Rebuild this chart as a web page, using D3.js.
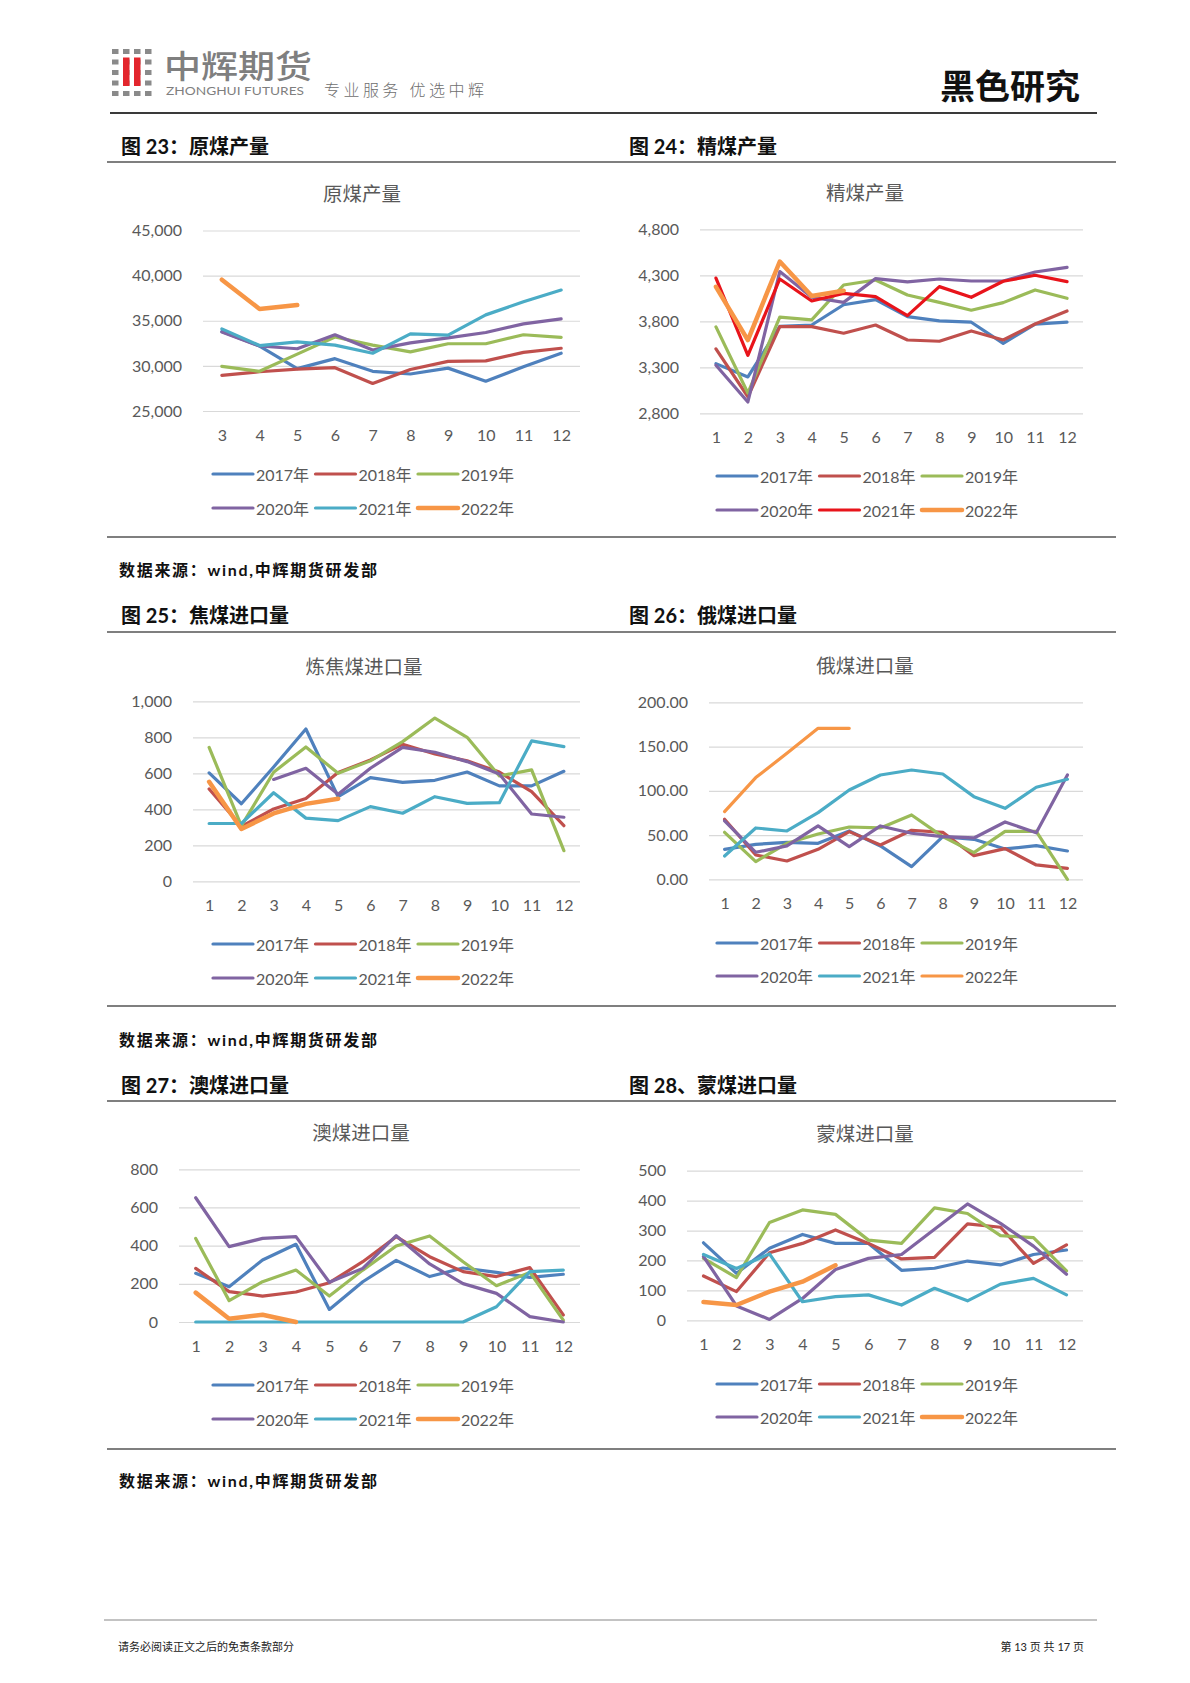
<!DOCTYPE html>
<html><head><meta charset="utf-8">
<script src="https://cdn.jsdelivr.net/npm/d3@7/dist/d3.min.js"></script>
<style>
html,body{margin:0;padding:0;background:#fff;}
svg{display:block;}
text{font-family:Lato,"Noto Sans CJK SC",sans-serif;}
</style></head>
<body>
<svg id="page" width="1190" height="1683"></svg>
<script>
// ---------------- DATA ----------------
const seriesNames = ["2017年","2018年","2019年","2020年","2021年","2022年"];
const monthsFrom3 = [3,4,5,6,7,8,9,10,11,12];
const months = [1,2,3,4,5,6,7,8,9,10,11,12];

const rawCoalTicks = [25000,30000,35000,40000,45000];
const rawCoal = [
  [33800,32200,29700,30800,29400,29100,29750,28300,29900,31400],
  [28950,29350,29650,29800,28050,29600,30500,30550,31500,31950],
  [29950,29400,31300,33200,32300,31550,32450,32450,33450,33150],
  [33750,32200,31900,33450,31750,32550,33100,33700,34650,35200],
  [34100,32250,32650,32300,31400,33550,33400,35650,37100,38400],
  [39550,36300,36750,null,null,null,null,null,null,null]
];

const cleanCoalTicks = [2800,3300,3800,4300,4800];
const cleanCoal = [
  [3340,3195,3745,3760,3980,4035,3850,3805,3790,3560,3770,3790],
  [3500,2980,3742,3742,3670,3760,3597,3583,3695,3597,3771,3912],
  [3740,3020,3845,3815,4195,4249,4086,4006,3920,4003,4141,4050],
  [3322,2923,4340,4061,4006,4264,4228,4260,4238,4238,4336,4387],
  [4270,3430,4260,4021,4104,4068,3862,4177,4061,4235,4300,4231],
  [4175,3595,4450,4075,4133,null,null,null,null,null,null,null]
];

const cokingImportTicks = [0,200,400,600,800,1000];
const cokingImport = [
  [602,431,635,846,470,576,550,561,607,530,530,611],
  [513,305,402,460,604,674,761,707,669,607,498,309],
  [744,308,606,746,600,669,776,907,800,585,619,170],
  [null,null,566,628,483,628,744,717,665,596,374,356],
  [321,321,492,351,337,415,378,470,433,437,780,748],
  [553,291,377,430,459,null,null,null,null,null,null,null]
];

const russiaTicks = [0,50,100,150,200];
const russiaImport = [
  [33.9,39.5,41.8,40.7,54.6,37.7,14.3,48.2,45.2,34.3,38.0,32.0],
  [67.8,27.5,20.7,33.9,53.9,38.8,55.4,53.1,26.7,34.7,16.2,12.4],
  [53.1,20.0,40.7,51.2,59.1,58.0,72.7,48.2,30.1,54.2,54.2,0],
  [65.9,30.5,37.7,60.3,36.9,60.3,52.0,48.2,46.7,64.8,52.7,117.9],
  [26.4,58.0,54.6,75.3,100.9,117.9,123.5,119.0,93.4,80.2,104.0,113.0],
  [76.5,114.9,142.4,170.6,170.6,null,null,null,null,null,null,null]
];

const australiaTicks = [0,200,400,600,800];
const australiaImport = [
  [255,185,325,407,66,211,323,238,283,260,234,250],
  [281,159,136,157,206,316,447,342,264,238,285,37],
  [438,112,211,272,136,272,398,451,316,190,260,10],
  [651,395,438,447,208,281,452,304,201,150,28,0],
  [0,0,0,0,0,0,0,0,0,80,264,272],
  [154,17,38,0,null,null,null,null,null,null,null,null]
];

const mongoliaTicks = [0,100,200,300,400,500];
const mongoliaImport = [
  [259,157,241,287,257,257,167,174,198,185,220,235],
  [148,96,226,257,302,257,205,210,322,311,190,252],
  [207,143,327,369,354,268,257,376,357,283,276,165],
  [213,48,3,73,170,207,220,304,389,324,248,154],
  [220,173,222,62,79,85,51,107,65,121,140,85],
  [61,51,96,129,184,null,null,null,null,null,null,null]
];

// ---------------- STYLE / LAYOUT ----------------
const palette = ["#4F81BD","#C0504D","#9BBB59","#8064A2","#4BACC6","#F79646"];
const palette2 = ["#4F81BD","#C0504D","#9BBB59","#8064A2","#E8141B","#F79646"];

const svg = d3.select("#page");
svg.append("rect").attr("width",1190).attr("height",1683).attr("fill","#fff");

// ---------- header ----------
const logo = svg.append("g");
const iconCols = [112,123,134,145];
const iconRows = [49,59.5,70,80.5,91];
iconRows.forEach(y => iconCols.forEach(x => {
  logo.append("rect").attr("x",x).attr("y",y).attr("width",6.5).attr("height",5).attr("fill","#8a8a8a");
}));
[123,134].forEach(x => logo.append("rect").attr("x",x).attr("y",57.5).attr("width",6.5).attr("height",28.5).attr("fill","#e3262d"));
logo.append("text").attr("x",164).attr("y",78).attr("font-family","'Noto Sans CJK SC'")
  .attr("font-size",32).attr("font-weight",500).attr("fill","#7f7f7f")
  .attr("textLength",148).attr("lengthAdjust","spacingAndGlyphs").text("中辉期货");
logo.append("text").attr("x",166).attr("y",95).attr("font-family","'Liberation Sans',Arial")
  .attr("font-size",11.5).attr("fill","#7f7f7f")
  .attr("textLength",138).attr("lengthAdjust","spacingAndGlyphs").text("ZHONGHUI FUTURES");
logo.append("text").attr("x",324).attr("y",96).attr("font-family","'Noto Sans CJK SC'")
  .attr("font-size",16).attr("font-weight",300).attr("fill","#6e6e6e")
  .attr("textLength",160).attr("lengthAdjust","spacing").text("专业服务 优选中辉");
svg.append("text").attr("x",1080).attr("y",99).attr("text-anchor","end").attr("font-family","'Noto Sans CJK SC'")
  .attr("font-size",34).attr("font-weight",700).attr("fill","#111")
  .attr("textLength",140).attr("lengthAdjust","spacingAndGlyphs").text("黑色研究");
svg.append("line").attr("x1",110).attr("x2",1097).attr("y1",113).attr("y2",113).attr("stroke","#3a3a3a").attr("stroke-width",2);

// ---------- section titles / rules / sources ----------
function hline(y, x1=107, x2=1116, w=1.5, c="#555"){
  svg.append("line").attr("x1",x1).attr("x2",x2).attr("y1",y).attr("y2",y).attr("stroke",c).attr("stroke-width",w);
}
function secTitle(x, y, t){
  svg.append("text").attr("x",x).attr("y",y).attr("dominant-baseline","central")
    .attr("font-family","'Noto Sans CJK SC'").attr("font-size",20).attr("font-weight",700).attr("fill","#111").text(t);
}
function source(y){
  svg.append("text").attr("x",119).attr("y",y).attr("dominant-baseline","central")
    .attr("font-family","'Noto Sans CJK SC'").attr("font-size",16).attr("font-weight",700).attr("fill","#111")
    .attr("textLength",258).attr("lengthAdjust","spacing").text("数据来源：wind,中辉期货研发部");
}
secTitle(121,146,"图 23：原煤产量"); secTitle(629,146,"图 24：精煤产量"); hline(162);
hline(537); source(569);
secTitle(121,615,"图 25：焦煤进口量"); secTitle(629,615,"图 26：俄煤进口量"); hline(632);
hline(1006); source(1039);
secTitle(121,1085,"图 27：澳煤进口量"); secTitle(629,1085,"图 28、蒙煤进口量"); hline(1101);
hline(1449); source(1480);
hline(1620,104,1097,1.2,"#888");
svg.append("text").attr("x",118).attr("y",1646).attr("dominant-baseline","central")
  .attr("font-family","'Noto Sans CJK SC'").attr("font-size",11).attr("fill","#222").text("请务必阅读正文之后的免责条款部分");
svg.append("text").attr("x",1084).attr("y",1646).attr("text-anchor","end").attr("dominant-baseline","central")
  .attr("font-family","'Noto Sans CJK SC'").attr("font-size",11).attr("fill","#222").text("第 13 页 共 17 页");

// ---------- charts ----------
function drawChart(cfg){
  const g = svg.append("g");
  const x = d3.scalePoint().domain(cfg.cats).range([cfg.x0,cfg.x1]).padding(0.5);
  const y = d3.scaleLinear().domain(d3.extent(cfg.ticks)).range([cfg.yBot,cfg.yTop]);

  g.append("text").attr("x",cfg.tx).attr("y",cfg.ty).attr("text-anchor","middle").attr("dominant-baseline","central")
    .attr("font-family","'Noto Sans CJK SC'").attr("font-size",19.5).attr("fill","#595959").text(cfg.title);

  const ya = g.append("g").attr("transform",`translate(${cfg.x0},0)`)
    .call(d3.axisLeft(y).tickValues(cfg.ticks).tickFormat(d3.format(cfg.fmt)).tickSize(-(cfg.x1-cfg.x0)).tickPadding(21));
  ya.select(".domain").remove();
  ya.selectAll("line").attr("stroke","#d9d9d9").attr("stroke-width",1.2);
  ya.selectAll("text").attr("font-size",16).attr("fill","#595959").attr("font-family","Lato");

  const xa = g.append("g").attr("transform",`translate(0,${cfg.yBot})`)
    .call(d3.axisBottom(x).tickSize(0));
  xa.select(".domain").remove();
  xa.selectAll("text").attr("y",24).attr("dy","0.35em").attr("font-size",16).attr("fill","#595959").attr("font-family","Lato");

  const line = d3.line().defined(d => d[1] != null).x(d => x(d[0])).y(d => y(d[1]));
  cfg.data.forEach((vals,i) => {
    const pts = cfg.cats.map((c,j) => [c, vals[j] === undefined ? null : vals[j]]);
    g.append("path").attr("d",line(pts)).attr("fill","none").attr("stroke",cfg.colors[i])
      .attr("stroke-width", i===5 ? cfg.w22 : 3.2).attr("stroke-linejoin","round").attr("stroke-linecap","round");
  });

  seriesNames.forEach((n,i) => {
    const col = i%3, row = Math.floor(i/3);
    const lx = cfg.lx + col*102.5, ly = cfg.ly[row];
    g.append("line").attr("x1",lx).attr("x2",lx+40).attr("y1",ly).attr("y2",ly)
      .attr("stroke",cfg.colors[i]).attr("stroke-width", i===5 ? cfg.w22 : 3.2).attr("stroke-linecap","round");
    g.append("text").attr("x",lx+43).attr("y",ly).attr("dominant-baseline","central")
      .attr("font-size",16).attr("fill","#595959").text(n);
  });
}

drawChart({title:"原煤产量",tx:362,ty:193,cats:monthsFrom3,data:rawCoal,ticks:rawCoalTicks,fmt:",",
  x0:203,x1:580,yTop:230.5,yBot:411,lx:213,ly:[474,508],colors:palette,w22:4.5});
drawChart({title:"精煤产量",tx:865,ty:192,cats:months,data:cleanCoal,ticks:cleanCoalTicks,fmt:",",
  x0:700,x1:1083,yTop:229.3,yBot:413.3,lx:717,ly:[476,510],colors:palette2,w22:4.5});
drawChart({title:"炼焦煤进口量",tx:364,ty:666,cats:months,data:cokingImport,ticks:cokingImportTicks,fmt:",",
  x0:193,x1:580,yTop:701.3,yBot:881.3,lx:213,ly:[944,978],colors:palette,w22:4.5});
drawChart({title:"俄煤进口量",tx:865,ty:665,cats:months,data:russiaImport,ticks:russiaTicks,fmt:".2f",
  x0:709,x1:1083,yTop:702.3,yBot:879.3,lx:717,ly:[943,976],colors:palette,w22:3.2});
drawChart({title:"澳煤进口量",tx:361,ty:1132,cats:months,data:australiaImport,ticks:australiaTicks,fmt:"d",
  x0:179,x1:580,yTop:1169.3,yBot:1322,lx:213,ly:[1385,1419],colors:palette,w22:4.5});
drawChart({title:"蒙煤进口量",tx:865,ty:1133,cats:months,data:mongoliaImport,ticks:mongoliaTicks,fmt:"d",
  x0:687,x1:1083,yTop:1170.7,yBot:1320.3,lx:717,ly:[1384,1417],colors:palette,w22:4.5});
</script>
</body></html>
